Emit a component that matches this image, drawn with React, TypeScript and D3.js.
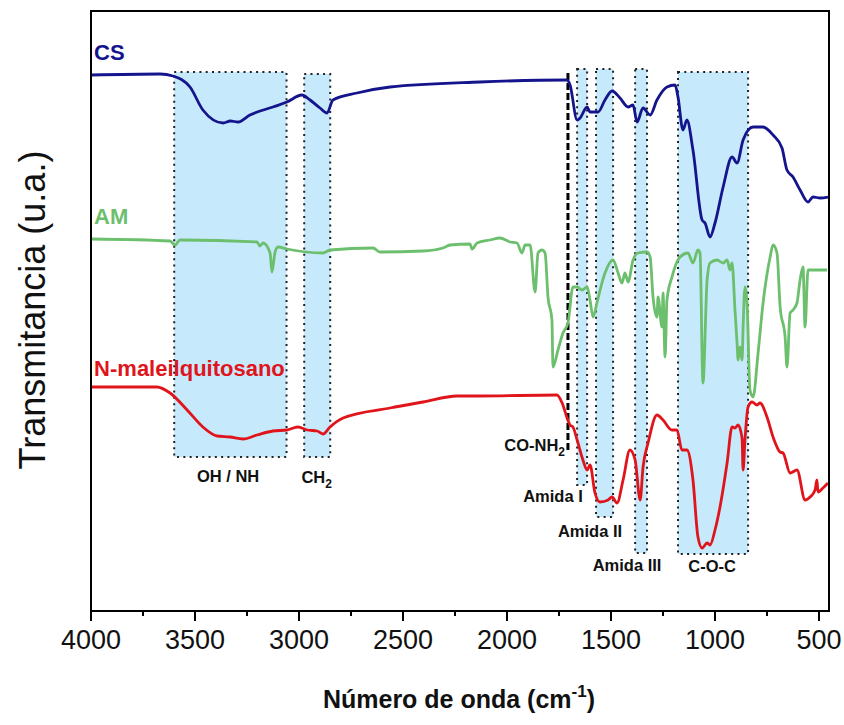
import * as d3 from "d3";

const W = 844, H = 725;
const margin = { top: 11, right: 15, bottom: 114, left: 91 };

// CS (chitosan)
const csWn = [4000, 3668, 3606, 3524, 3462, 3365, 3330, 3293, 3236, 3125, 3058, 2986, 2947, 2899, 2865, 2837, 2721, 2562, 2130, 1711, 1697, 1663, 1649, 1615, 1601, 1562, 1529, 1495, 1457, 1418, 1394, 1375, 1346, 1312, 1279, 1231, 1192, 1178, 1154, 1135, 1106, 1062, 1048, 1024, 1000, 961, 918, 894, 865, 817, 769, 721, 678, 654, 625, 591, 553, 529, 495, 457];
const csT = [53.6, 53.7, 53.5, 52.4, 50.1, 48.8, 49.0, 48.9, 49.6, 50.4, 50.9, 51.6, 51.1, 50.3, 49.8, 51.1, 51.8, 52.4, 52.9, 53.1, 52.6, 49.1, 49.3, 50.4, 49.9, 49.9, 51.1, 52.0, 51.3, 50.4, 50.6, 48.9, 50.3, 49.6, 51.1, 52.4, 52.6, 51.4, 48.1, 49.1, 46.1, 39.1, 38.8, 37.4, 38.8, 42.4, 45.4, 44.8, 47.1, 48.4, 48.4, 47.6, 46.3, 44.1, 43.4, 42.1, 40.9, 41.4, 41.3, 41.4];

// AM
const amWn = [4000, 3620, 3596, 3572, 3202, 3188, 3173, 3139, 3130, 3115, 3101, 3058, 2885, 2851, 2644, 2611, 2404, 2308, 2274, 2178, 2168, 2144, 2082, 2034, 1985, 1952, 1928, 1913, 1889, 1865, 1851, 1832, 1817, 1803, 1784, 1779, 1755, 1731, 1707, 1683, 1663, 1639, 1615, 1601, 1586, 1567, 1529, 1490, 1466, 1447, 1433, 1418, 1394, 1370, 1327, 1312, 1298, 1279, 1274, 1255, 1250, 1240, 1231, 1207, 1168, 1130, 1106, 1082, 1072, 1058, 1038, 1024, 990, 961, 942, 928, 918, 904, 894, 889, 880, 870, 865, 856, 846, 832, 817, 793, 769, 735, 721, 702, 687, 663, 654, 639, 625, 606, 591, 577, 567, 553, 529, 461];
const amT = [37.2, 37.0, 36.6, 37.1, 36.9, 36.5, 36.8, 35.8, 33.9, 35.9, 36.4, 36.2, 35.8, 36.1, 36.3, 35.9, 36.0, 36.3, 36.6, 36.7, 36.2, 36.8, 37.1, 37.3, 36.9, 36.8, 35.8, 36.6, 36.6, 31.9, 35.8, 36.1, 35.8, 31.4, 29.1, 24.4, 26.1, 27.8, 28.8, 32.4, 32.4, 32.1, 32.4, 31.1, 29.4, 30.9, 33.8, 35.1, 33.8, 32.8, 33.8, 32.9, 35.1, 35.8, 35.9, 35.4, 31.4, 29.4, 31.4, 28.4, 31.8, 25.4, 31.1, 33.4, 35.4, 35.8, 34.8, 36.1, 35.8, 22.8, 33.1, 34.8, 35.1, 34.8, 35.1, 34.1, 34.8, 30.1, 26.8, 25.1, 26.4, 25.1, 28.4, 32.4, 30.8, 22.1, 21.4, 25.8, 30.8, 35.4, 36.6, 35.8, 30.4, 27.4, 24.4, 29.8, 30.1, 30.8, 33.1, 34.4, 28.4, 34.1, 34.1, 34.1];

// N-maleilquitosano
const nmWn = [4000, 3683, 3620, 3538, 3462, 3394, 3332, 3269, 3202, 3125, 3058, 3005, 2961, 2913, 2885, 2851, 2788, 2562, 2404, 2240, 2130, 1760, 1735, 1711, 1697, 1683, 1663, 1635, 1615, 1601, 1577, 1553, 1514, 1495, 1471, 1442, 1409, 1384, 1360, 1346, 1322, 1279, 1250, 1207, 1183, 1159, 1135, 1106, 1082, 1062, 1038, 1024, 1000, 976, 942, 918, 904, 889, 870, 865, 856, 841, 822, 798, 784, 750, 721, 687, 673, 639, 606, 567, 543, 519, 510, 505, 481, 457];
const nmT = [22.4, 22.4, 21.8, 20.1, 18.4, 17.5, 17.4, 17.2, 17.6, 18.0, 18.1, 18.4, 18.1, 18.0, 17.7, 18.4, 19.3, 20.3, 20.9, 21.5, 21.5, 21.6, 20.8, 19.3, 18.6, 18.4, 17.1, 15.1, 14.1, 14.6, 11.8, 10.9, 11.1, 11.4, 10.8, 13.1, 16.1, 15.1, 11.1, 14.4, 16.8, 19.6, 19.1, 18.1, 18.1, 16.1, 16.1, 13.1, 7.4, 6.3, 6.8, 6.6, 8.1, 10.4, 14.8, 18.4, 18.3, 18.6, 17.3, 14.1, 17.1, 20.4, 20.9, 20.6, 20.8, 19.4, 17.4, 15.9, 15.8, 13.8, 14.1, 11.1, 11.4, 12.1, 13.1, 11.9, 12.3, 12.8];

const seriesNames = ["CS", "AM", "N-maleilquitosano"];
const seriesColors = ["#14148c", "#6cbf6c", "#e0141b"];
const seriesWn = [csWn, amWn, nmWn];
const seriesT = [csT, amT, nmT];
const seriesLabelT = [55.1, 38.7, 23.5];

// shaded bands
const bandFrom = [3600, 2975, 1663, 1572, 1384, 1178];
const bandTo = [3060, 2850, 1615, 1490, 1327, 841];
const bandTop = [53.9, 53.7, 54.2, 54.2, 54.2, 53.9];
const bandBottom = [15.4, 15.4, 12.6, 9.4, 5.8, 5.7];
const bandLabels = ["OH / NH", "CH", "Amida I", "Amida II", "Amida III", "C-O-C"];
const bandSubs = ["", "2", "", "", "", ""];
const bandLabelWn = [3341, 2915, 1779, 1601, 1423, 1014];
const bandLabelT = [12.9, 12.8, 10.9, 7.4, 4.0, 3.9];

const amideLineWn = 1707;
const amideLineT = [53.8, 15.8];

const majorTicks = d3.range(4000, 499, -500);
const minorTicks = d3.range(3750, 700, -500);

export default function App() {
  const x = d3.scaleLinear().domain([4000, 452]).range([margin.left, W - margin.right]);
  const y = d3.scaleLinear().domain([0, 60]).range([H - margin.bottom, margin.top]);
  const line = d3.line<[number, number]>()
    .x(d => x(d[0]))
    .y(d => y(d[1]))
    .curve(d3.curveMonotoneX);

  const font = "'Liberation Sans', Arial, sans-serif";
  const dotted = { stroke: "#222", strokeWidth: 2, strokeDasharray: "2 4.3", fill: "none" };

  return (
    <svg width={W} height={H} style={{ position: "absolute", left: 0, top: 0, background: "#fff" }} fontFamily={font}>
      {/* bands */}
      {bandFrom.map((f, i) => (
        <rect key={"bf" + i} x={x(f)} y={y(bandTop[i])} width={x(bandTo[i]) - x(f)}
          height={y(bandBottom[i]) - y(bandTop[i])} fill="#c6e9fb" />
      ))}
      {bandFrom.map((f, i) => (
        <rect key={"bb" + i} x={x(f)} y={y(bandTop[i])} width={x(bandTo[i]) - x(f)}
          height={y(bandBottom[i]) - y(bandTop[i])} {...dotted} />
      ))}
      <line x1={x(amideLineWn)} x2={x(amideLineWn)} y1={y(amideLineT[0])} y2={y(amideLineT[1])}
        stroke="#000" strokeWidth={3} strokeDasharray="7 3" />

      {/* spectra */}
      {seriesNames.map((n, i) => (
        <path key={n} d={line(seriesWn[i].map((w, j) => [w, seriesT[i][j]] as [number, number])) || ""}
          fill="none" stroke={seriesColors[i]} strokeWidth={2.8} strokeLinejoin="round" />
      ))}

      {/* series labels */}
      {seriesNames.map((n, i) => (
        <text key={"l" + n} x={x(3985)} y={y(seriesLabelT[i])} fill={seriesColors[i]}
          fontWeight="bold" fontSize={22}>{n}</text>
      ))}

      {/* band labels */}
      {bandLabels.map((b, i) => (
        <text key={"t" + i} x={x(bandLabelWn[i])} y={y(bandLabelT[i])} textAnchor="middle"
          fontWeight="bold" fontSize={16.5} fill="#111">
          {b}{bandSubs[i] && <tspan fontSize={12} dy={5}>{bandSubs[i]}</tspan>}
        </text>
      ))}
      <text x={x(1721)} y={y(16.0)} textAnchor="end" fontWeight="bold" fontSize={16.5} fill="#111">
        CO-NH<tspan fontSize={12} dy={5}>2</tspan>
      </text>

      {/* frame */}
      <rect x={margin.left} y={margin.top} width={W - margin.left - margin.right}
        height={H - margin.top - margin.bottom} fill="none" stroke="#000" strokeWidth={2} />

      {/* x ticks */}
      {majorTicks.map(t => (
        <g key={"M" + t}>
          <line x1={x(t)} x2={x(t)} y1={y(0)} y2={y(0) + 10} stroke="#000" strokeWidth={2} />
          <text x={x(t)} y={y(0) + 38} textAnchor="middle" fontSize={27} fill="#111">{t}</text>
        </g>
      ))}
      {minorTicks.map(t => (
        <line key={"m" + t} x1={x(t)} x2={x(t)} y1={y(0)} y2={y(0) + 5} stroke="#000" strokeWidth={2} />
      ))}

      {/* axis titles */}
      <text x={459} y={708} textAnchor="middle" fontWeight="bold" fontSize={25} fill="#111">
        Número de onda (cm<tspan fontSize={17} dy={-11}>-1</tspan><tspan dy={11}>)</tspan>
      </text>
      <text transform="translate(45,310) rotate(-90)" textAnchor="middle" fontSize={36} fill="#111">
        Transmitancia (u.a.)
      </text>
    </svg>
  );
}
